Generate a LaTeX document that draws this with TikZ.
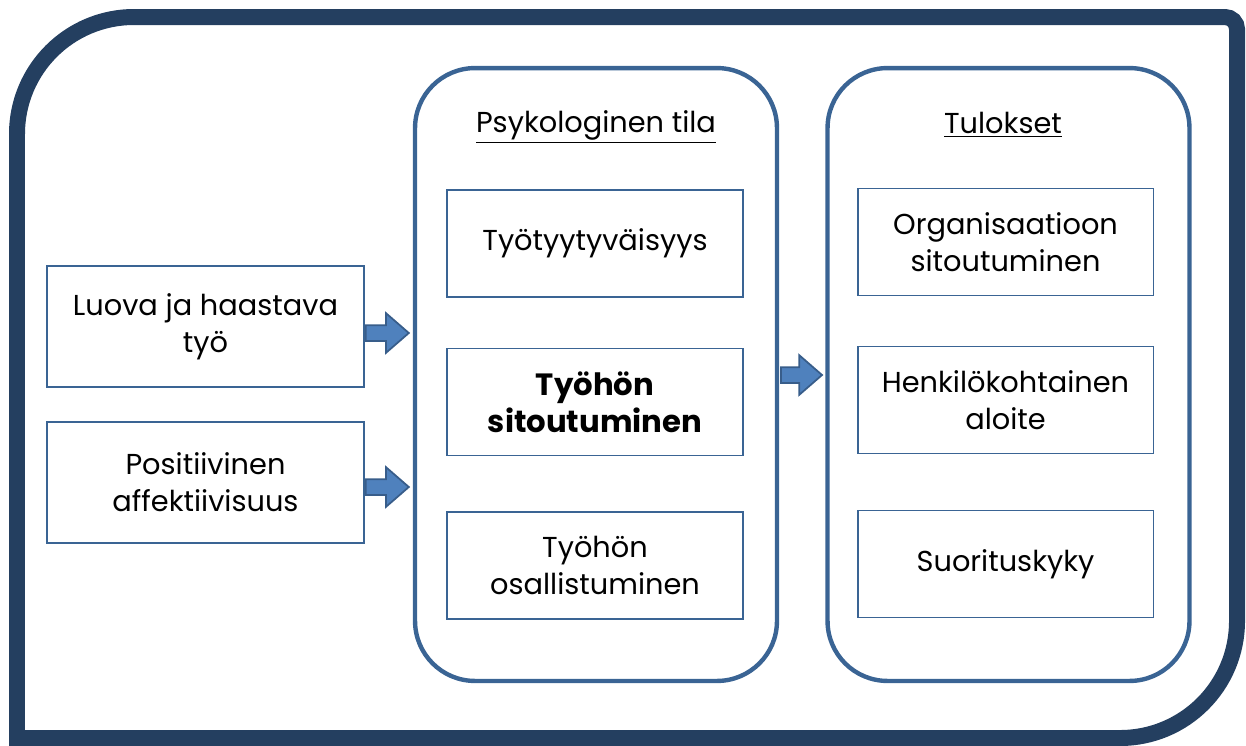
\documentclass[tikz,border=0pt]{standalone}
\usepackage{fontspec}
\setmainfont{Poppins}
\usetikzlibrary{shapes.arrows,calc}
\definecolor{kehys}{HTML}{243F60}
\definecolor{reuna}{HTML}{3A6494}
\definecolor{nuoli}{HTML}{4F81BD}
\definecolor{nuolireuna}{HTML}{385D8A}
\tikzstyle{kehysviiva} = [draw=kehys, line width=0.32cm]
\tikzstyle{laatikko} = [draw=reuna, line width=1.1pt, align=center, font={\fontsize{16.4}{21}\selectfont}]
\tikzstyle{vasen} = [laatikko, minimum width=6.34cm, minimum height=2.42cm]
\tikzstyle{keski} = [laatikko, minimum width=5.92cm, minimum height=2.14cm]
\tikzstyle{sarake} = [draw=reuna, line width=2.5pt, rounded corners=1.2cm, minimum width=7.24cm, minimum height=12.26cm]
\tikzstyle{otsikko} = [font={\fontsize{16.4}{21}\selectfont}]
\tikzstyle{nuoliblokki} = [single arrow, draw=nuolireuna, fill=nuoli, line width=1pt, inner xsep=0pt, inner ysep=0.14cm, single arrow head extend=0.24cm, single arrow head indent=0pt, single arrow tip angle=82, minimum height=0.86cm, anchor=tail]

\begin{document}
\begin{tikzpicture}[x=0.02cm,y=-0.02cm]
    \useasboundingbox (0,0) rectangle (1246,745);
    % ulkokehys
    \draw[kehysviiva] (600,738) -- (17,738) [rounded corners=2.34cm] -- (17,17) [rounded corners=0.24cm] -- (1237,17) [rounded corners=2.34cm] -- (1237,738) -- cycle;
    \node[sarake](psyk) at (596,374.5){};
    \node[sarake](tulos) at (1008.5,374.5){};
    \node[otsikko](psykotsikko) at (596,127){\underline{Psykologinen tila}};
    \node[otsikko](tulosotsikko) at (1003,125){\underline{Tulokset}};
    \node[vasen](luova) at (205.5,326.5){Luova ja haastava\\työ};
    \node[vasen](positiivinen) at (205.5,482.5){Positiivinen\\affektiivisuus};
    \node[keski](tyytyv) at (595,243.5){Työtyytyväisyys};
    \node[keski,font={\fontsize{17.5}{21}\selectfont\bfseries}](sitout) at (595,402){Työhön\\sitoutuminen};
    \node[keski](osall) at (595,565.5){Työhön\\osallistuminen};
    \node[keski](organ) at (1005.5,242){Organisaatioon\\sitoutuminen};
    \node[keski](henk) at (1005.5,400){Henkilökohtainen\\aloite};
    \node[keski](suor) at (1005.5,564){Suorituskyky};
    % nuolet
    \node[nuoliblokki](n1) at ($(luova.east)+(0,6.5)$){};
    \node[nuoliblokki](n2) at ($(positiivinen.east)+(0,4.5)$){};
    \node[nuoliblokki,minimum height=0.82cm](n3) at ($(psyk.east)+(1,0.5)$){};
  \end{tikzpicture}
\end{document}
